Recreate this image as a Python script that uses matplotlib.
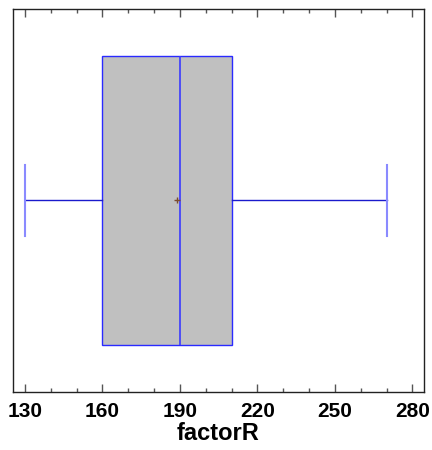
import matplotlib
matplotlib.use("Agg")
import matplotlib.pyplot as plt
from matplotlib.ticker import MultipleLocator

# Kennwerte der Verteilung
label = "factorR"
whisker_lo = 130
q1 = 160
median = 190
q3 = 210
whisker_hi = 270
mean = 189

ticks = [130, 160, 190, 220, 250, 280]

plt.rcParams["font.family"] = ["Liberation Sans", "DejaVu Sans"]

fig = plt.figure(figsize=(4.32, 4.5), dpi=100)
ax = fig.add_axes([0.030, 0.129, 0.951, 0.851])

stats = [dict(whislo=whisker_lo, q1=q1, med=median, q3=q3, whishi=whisker_hi,
              mean=mean, fliers=[], label=label)]
ax.bxp(stats, positions=[0], vert=False, widths=1.514, capwidths=0.37,
       showmeans=True, patch_artist=True,
       boxprops=dict(facecolor="#c0c0c0", edgecolor="#2a2aff", linewidth=1.0),
       medianprops=dict(color="#3a3aff", linewidth=1.2),
       whiskerprops=dict(color="#1a1acc", linewidth=1.0),
       capprops=dict(color="#8a8aff", linewidth=1.5),
       meanprops=dict(marker="+", markeredgecolor="#7a4a30", markersize=5,
                      markeredgewidth=1.0))

ax.set_ylim(-1, 1)
ax.set_xlim(125.4, 284.4)
ax.set_yticks([])
ax.set_xticks(ticks)
ax.xaxis.set_minor_locator(MultipleLocator(10))
ax.tick_params(axis="x", which="both", direction="in", top=True, bottom=True,
               colors="#555555", labelcolor="black")
ax.tick_params(axis="x", which="major", length=6, width=1, labelsize=15, pad=7)
ax.tick_params(axis="x", which="minor", length=3, width=1)
for lab in ax.get_xticklabels():
    lab.set_fontweight("bold")
ax.set_xlabel(label, fontsize=17, fontweight="bold", labelpad=1)
for s in ax.spines.values():
    s.set_color("#222222")
    s.set_linewidth(1.0)

fig.savefig("out.png", dpi=100)
